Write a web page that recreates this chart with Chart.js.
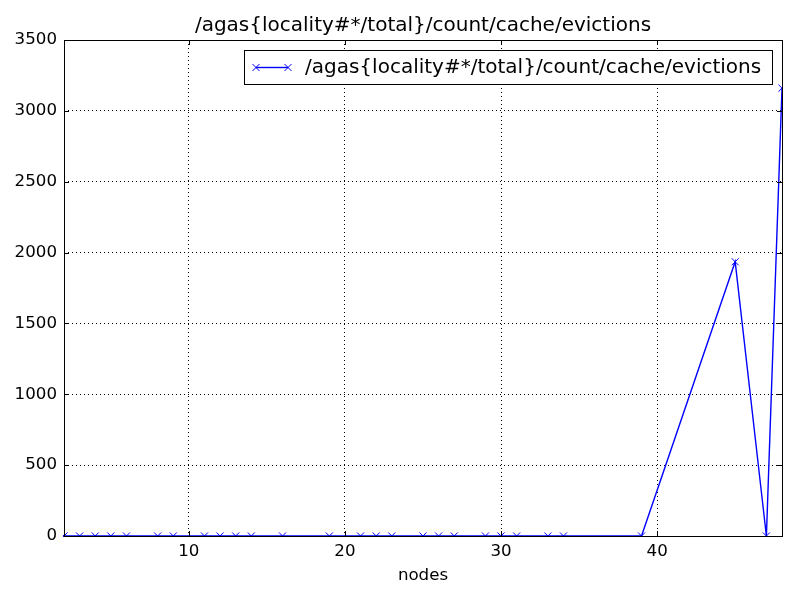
<!DOCTYPE html>
<html>
<head>
<meta charset="utf-8">
<script src="https://cdn.jsdelivr.net/npm/chart.js@4"></script>
<style>
html,body{margin:0;padding:0;background:#fff;}
#wrap{width:800px;height:600px;}
</style>
</head>
<body>
<div id="wrap"><canvas id="c" width="800" height="600"></canvas></div>
<script>
const chartTitle = "/agas{locality#*/total}/count/cache/evictions";
const seriesName = "/agas{locality#*/total}/count/cache/evictions";
const xLabel = "nodes";
const nodes = [2,3,4,5,6,8,9,11,12,13,14,16,19,21,22,23,25,26,27,29,30,31,33,34,39,45,47,48];
const evictions = [0,0,0,0,0,0,0,0,0,0,0,0,0,0,0,0,0,0,0,0,0,0,0,0,0,1935,0,3160];
const xTicks = [10,20,30,40];
const yTicks = [0,500,1000,1500,2000,2500,3000,3500];

const FONT = "DejaVu Sans";
const FS = 16.67;
const FS_LARGE = 20;
const BLUE = "#0000ff";

const framePlugin = {
  id: 'frame',
  afterDraw(chart) {
    const ctx = chart.ctx;
    const a = chart.chartArea;
    const xs = chart.scales.x, ys = chart.scales.y;
    ctx.save();
    ctx.strokeStyle = '#000';
    ctx.lineWidth = 1;
    ctx.strokeRect(Math.round(a.left)+0.5, Math.round(a.top)+0.5, Math.round(a.right-a.left), Math.round(a.bottom-a.top));
    const tl = 5;
    ctx.beginPath();
    xTicks.forEach(v => {
      const px = Math.round(xs.getPixelForValue(v)) + 0.5;
      ctx.moveTo(px, a.bottom); ctx.lineTo(px, a.bottom - tl);
      ctx.moveTo(px, a.top); ctx.lineTo(px, a.top + tl);
    });
    yTicks.forEach(v => {
      const py = Math.round(ys.getPixelForValue(v)) + 0.5;
      ctx.moveTo(a.left, py); ctx.lineTo(a.left + tl, py);
      ctx.moveTo(a.right, py); ctx.lineTo(a.right - tl, py);
    });
    ctx.stroke();
    ctx.fillStyle = '#000';
    ctx.font = FS_LARGE + 'px "' + FONT + '"';
    ctx.textAlign = 'center';
    ctx.textBaseline = 'middle';
    ctx.fillText(chartTitle, (a.left + a.right) / 2, 26);
    const lx = 244.5, ly = 50.5, lw = 528, lh = 34;
    ctx.fillStyle = '#fff';
    ctx.fillRect(lx, ly, lw, lh);
    ctx.strokeStyle = '#000';
    ctx.strokeRect(lx, ly, lw, lh);
    const cy = ly + lh / 2;
    ctx.strokeStyle = BLUE;
    ctx.lineWidth = 1.4;
    ctx.beginPath();
    ctx.moveTo(256, cy); ctx.lineTo(288, cy);
    ctx.stroke();
    ctx.lineWidth = 1;
    [256, 288].forEach(mx => {
      const d = 3.5;
      ctx.beginPath();
      ctx.moveTo(mx - d, cy - d); ctx.lineTo(mx + d, cy + d);
      ctx.moveTo(mx - d, cy + d); ctx.lineTo(mx + d, cy - d);
      ctx.stroke();
    });
    ctx.fillStyle = '#000';
    ctx.textAlign = 'left';
    ctx.fillText(seriesName, 305, cy);
    ctx.restore();
  }
};

new Chart(document.getElementById('c'), {
  type: 'line',
  data: {
    datasets: [{
      label: seriesName,
      data: nodes.map((n, i) => ({x: n, y: evictions[i]})),
      borderColor: BLUE,
      backgroundColor: BLUE,
      borderWidth: 1.4,
      pointStyle: 'crossRot',
      pointRadius: 5,
      pointBorderWidth: 1,
      pointBorderColor: BLUE,
      pointHoverRadius: 5,
      tension: 0,
      fill: false,
      clip: 1
    }]
  },
  options: {
    responsive: false,
    animation: false,
    events: [],
    layout: { padding: { top: 40, right: 18, left: 0, bottom: 0 } },
    plugins: {
      legend: { display: false },
      title: { display: false },
      tooltip: { enabled: false }
    },
    scales: {
      x: {
        type: 'linear',
        min: 2, max: 48,
        afterBuildTicks: s => { s.ticks = xTicks.map(v => ({value: v})); },
        afterFit: s => { s.height = 64; },
        grid: { color: '#000', lineWidth: 1, drawTicks: false, tickLength: 0 },
        border: { display: false, dash: [1, 3] },
        ticks: { color: '#000', font: { family: FONT, size: FS }, padding: 6, maxRotation: 0, autoSkip: false, callback: v => String(v) },
        title: { display: true, text: xLabel, color: '#000', font: { family: FONT, size: FS }, padding: { top: 0, bottom: 14 } }
      },
      y: {
        type: 'linear',
        min: 0, max: 3500,
        afterBuildTicks: s => { s.ticks = yTicks.map(v => ({value: v})); },
        afterFit: s => { s.width = 64; },
        grid: { color: '#000', lineWidth: 1, drawTicks: false, tickLength: 0 },
        border: { display: false, dash: [1, 3] },
        ticks: { color: '#000', font: { family: FONT, size: FS }, padding: 7, autoSkip: false, callback: v => String(v) }
      }
    }
  },
  plugins: [framePlugin]
});
</script>
</body>
</html>
